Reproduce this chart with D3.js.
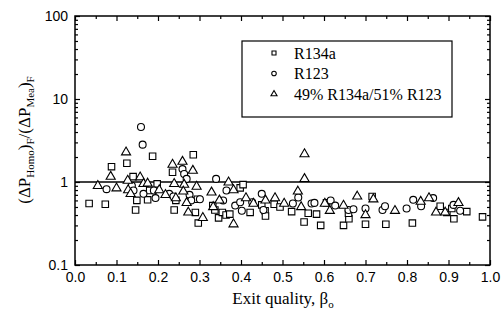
<!DOCTYPE html>
<html>
<head>
<meta charset="utf-8">
<script src="https://cdn.jsdelivr.net/npm/d3@7"></script>
<style>
	body { margin: 0; background: #fff; }
	svg { display: block; }
</style>
</head>
<body>
<svg id="chart"></svg>
<script>
// data: [exit quality, ratio]
const r134a = [
	[0.034,0.55],[0.073,0.54],[0.088,1.53],[0.125,1.68],[0.140,1.16],[0.146,0.46],[0.149,0.60],
	[0.175,0.61],[0.180,0.79],[0.187,2.04],[0.198,0.95],[0.235,1.31],[0.239,0.46],[0.243,0.60],
	[0.285,2.13],[0.290,0.43],[0.297,0.32],[0.295,0.62],[0.332,0.52],[0.337,0.46],[0.346,0.37],
	[0.355,0.43],[0.364,0.40],[0.373,0.41],[0.398,0.85],[0.405,0.93],[0.422,0.43],[0.450,0.53],
	[0.458,0.45],[0.459,0.39],[0.480,0.54],[0.494,0.50],[0.522,0.44],[0.552,0.33],[0.562,0.42],
	[0.582,0.41],[0.592,0.30],[0.606,0.56],[0.647,0.30],[0.660,0.36],[0.659,0.42],[0.700,0.31],
	[0.716,0.67],[0.749,0.31],[0.813,0.32],[0.880,0.51],[0.896,0.43],[0.908,0.48],[0.913,0.36],
	[0.944,0.44],[0.982,0.38]
];
const r123 = [
	[0.076,0.82],[0.159,4.6],[0.163,2.82],[0.137,0.90],[0.141,0.79],[0.165,0.72],[0.190,0.79],
	[0.194,0.64],[0.227,0.72],[0.237,0.67],[0.259,1.43],[0.263,1.25],[0.269,1.09],[0.276,0.70],
	[0.280,0.60],[0.301,0.62],[0.340,1.09],[0.365,0.79],[0.357,0.60],[0.386,0.52],[0.398,0.57],
	[0.402,0.45],[0.427,0.57],[0.450,0.72],[0.454,0.46],[0.525,0.55],[0.538,0.65],[0.570,0.55],
	[0.577,0.56],[0.616,0.60],[0.627,0.52],[0.659,0.46],[0.671,0.47],[0.700,0.48],[0.741,0.46],
	[0.747,0.51],[0.799,0.48],[0.815,0.61],[0.834,0.51],[0.863,0.64],[0.912,0.53],[0.928,0.45]
];
const blend = [
	[0.055,0.90],[0.086,1.16],[0.100,0.84],[0.123,2.28],[0.127,1.04],[0.128,0.80],[0.134,0.72],
	[0.157,1.14],[0.165,0.95],[0.175,0.96],[0.203,0.80],[0.218,0.70],[0.235,1.62],[0.239,0.95],
	[0.243,0.64],[0.259,1.76],[0.263,0.93],[0.261,0.77],[0.269,0.56],[0.273,0.43],[0.284,1.37],
	[0.293,0.88],[0.308,0.37],[0.329,0.75],[0.333,0.50],[0.348,0.60],[0.370,0.99],[0.382,0.31],
	[0.382,0.80],[0.412,0.64],[0.430,0.55],[0.459,0.60],[0.482,0.64],[0.504,0.55],[0.537,0.77],
	[0.545,0.50],[0.553,2.17],[0.553,1.09],[0.602,0.55],[0.614,0.45],[0.647,0.52],[0.680,0.67],
	[0.700,0.40],[0.719,0.62],[0.771,0.45],[0.833,0.58],[0.853,0.64],[0.870,0.43],[0.892,0.43],
	[0.924,0.56]
];
const seriesNames = ["R134a", "R123", "49% R134a/51% R123"];
const seriesShapes = [d3.symbolSquare, d3.symbolCircle, d3.symbolTriangle];
const xTicks = [0, 0.1, 0.2, 0.3, 0.4, 0.5, 0.6, 0.7, 0.8, 0.9, 1.0];
const yTicks = [0.1, 1, 10, 100];

const width = 502, height = 320;
const mLeft = 75, mRight = 490, mTop = 16, mBottom = 265;
const serif = "'Liberation Serif', 'Times New Roman', serif";
const sans = "'Liberation Sans', Arial, sans-serif";

const svg = d3.select("#chart").attr("width", width).attr("height", height);

const x = d3.scaleLinear([0, 1], [mLeft, mRight]);
const y = d3.scaleLog([0.1, 100], [mBottom, mTop]);

// minor ticks
const xMinor = d3.range(0.05, 1, 0.1);
const yMinor = [];
for (const d of [0.1, 1, 10]) for (let k = 2; k <= 9; k++) yMinor.push(d * k);

// bottom / top
svg.append("g")
	.attr("transform", `translate(0,${mBottom})`)
	.call(d3.axisBottom(x).tickValues(xTicks).tickSize(-5).tickPadding(7).tickFormat(d3.format(".1f")))
	.call(g => g.select(".domain").remove())
	.call(g => g.selectAll(".tick text").attr("font-family", sans).attr("font-size", 14).attr("fill", "#000"));
svg.append("g")
	.attr("transform", `translate(0,${mBottom})`)
	.call(d3.axisBottom(x).tickValues(xMinor).tickSize(-3).tickFormat(""))
	.call(g => g.select(".domain").remove());
svg.append("g")
	.attr("transform", `translate(0,${mTop})`)
	.call(d3.axisTop(x).tickValues(xTicks).tickSize(-5).tickFormat(""))
	.call(g => g.select(".domain").remove());
svg.append("g")
	.attr("transform", `translate(0,${mTop})`)
	.call(d3.axisTop(x).tickValues(xMinor).tickSize(-3).tickFormat(""))
	.call(g => g.select(".domain").remove());

// left / right
svg.append("g")
	.attr("transform", `translate(${mLeft},0)`)
	.call(d3.axisLeft(y).tickValues(yTicks).tickSize(-5).tickPadding(7).tickFormat(d => d3.format("~g")(d)))
	.call(g => g.select(".domain").remove())
	.call(g => g.selectAll(".tick text").attr("font-family", sans).attr("font-size", 14).attr("fill", "#000"));
svg.append("g")
	.attr("transform", `translate(${mLeft},0)`)
	.call(d3.axisLeft(y).tickValues(yMinor).tickSize(-3).tickFormat(""))
	.call(g => g.select(".domain").remove());
svg.append("g")
	.attr("transform", `translate(${mRight},0)`)
	.call(d3.axisRight(y).tickValues(yTicks).tickSize(-5).tickFormat(""))
	.call(g => g.select(".domain").remove());
svg.append("g")
	.attr("transform", `translate(${mRight},0)`)
	.call(d3.axisRight(y).tickValues(yMinor).tickSize(-3).tickFormat(""))
	.call(g => g.select(".domain").remove());

svg.selectAll(".tick line").attr("stroke", "#000").attr("stroke-width", 1.2);

// frame
svg.append("rect")
	.attr("x", mLeft).attr("y", mTop)
	.attr("width", mRight - mLeft).attr("height", mBottom - mTop)
	.attr("fill", "none").attr("stroke", "#000").attr("stroke-width", 1.5);

// reference line at 1
svg.append("line")
	.attr("x1", x(0)).attr("x2", x(1))
	.attr("y1", y(1)).attr("y2", y(1))
	.attr("stroke", "#000").attr("stroke-width", 1.7);

// points
const symSize = [42, 38, 36];
[r134a, r123, blend].forEach((data, i) => {
	svg.append("g")
		.selectAll("path")
		.data(data)
		.join("path")
		.attr("transform", d => `translate(${x(d[0])},${y(d[1])})`)
		.attr("d", d3.symbol(seriesShapes[i], symSize[i]))
		.attr("fill", "#fff")
		.attr("stroke", "#000")
		.attr("stroke-width", 1.1);
});

// legend
const legend = svg.append("g");
legend.append("rect")
	.attr("x", 242).attr("y", 41).attr("width", 210).attr("height", 76)
	.attr("fill", "#fff").attr("stroke", "#000").attr("stroke-width", 1.2);
seriesNames.forEach((name, i) => {
	const cy = 53 + i * 20.5;
	legend.append("path")
		.attr("transform", `translate(274,${cy})`)
		.attr("d", d3.symbol(seriesShapes[i], 16))
		.attr("fill", "#fff").attr("stroke", "#000").attr("stroke-width", 1.1);
	legend.append("text")
		.attr("x", 294).attr("y", cy + 5.5)
		.attr("font-family", serif).attr("font-size", 16)
		.text(name);
});

// x label
const xl = svg.append("text")
	.attr("x", 283).attr("y", 304)
	.attr("text-anchor", "middle")
	.attr("font-family", serif).attr("font-size", 17);
xl.append("tspan").text("Exit quality, β");
xl.append("tspan").attr("dy", 4).attr("font-size", 11).text("o");

// y label
const yl = svg.append("text")
	.attr("transform", "translate(30,140) rotate(-90)")
	.attr("text-anchor", "middle")
	.attr("font-family", serif).attr("font-size", 17);
yl.append("tspan").text("(ΔP");
yl.append("tspan").attr("dy", 4).attr("font-size", 11).text("Homo");
yl.append("tspan").attr("dy", -4).text(")");
yl.append("tspan").attr("dy", 4).attr("font-size", 11).text("F");
yl.append("tspan").attr("dy", -4).text("/(ΔP");
yl.append("tspan").attr("dy", 4).attr("font-size", 11).text("Mea");
yl.append("tspan").attr("dy", -4).text(")");
yl.append("tspan").attr("dy", 4).attr("font-size", 11).text("F");
</script>
</body>
</html>
